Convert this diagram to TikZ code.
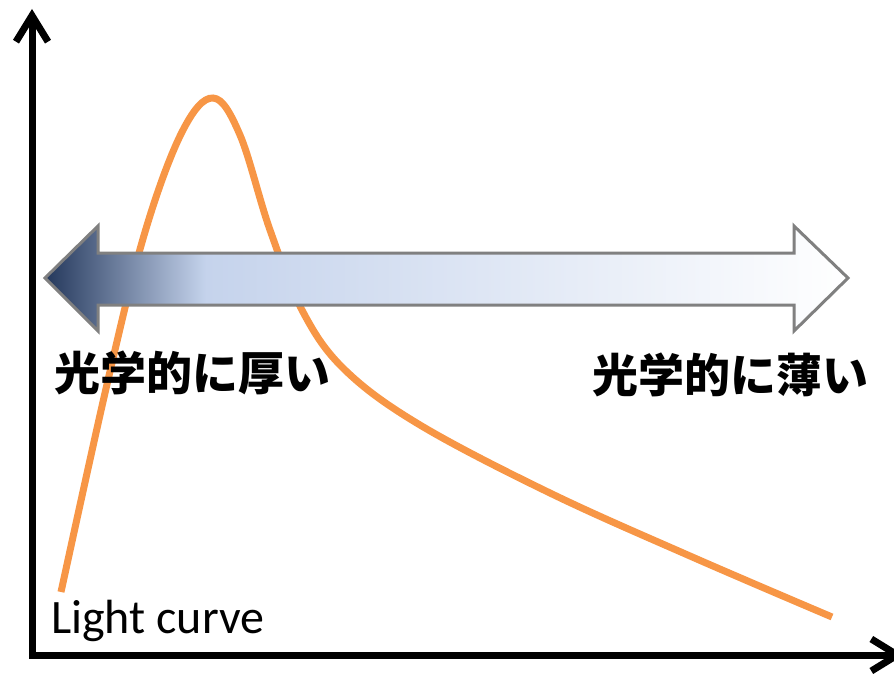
\documentclass[tikz,border=0pt]{standalone}
\usepackage{fontspec}
\setmainfont{Carlito}
\newfontfamily\jpfont{Noto Sans CJK JP}
\usetikzlibrary{arrows.meta}
\definecolor{curveorange}{RGB}{247,150,70}
\definecolor{banddark}{RGB}{36,56,92}
\definecolor{bandlight}{RGB}{197,211,236}
\definecolor{bandedge}{RGB}{128,128,128}
\pgfdeclarehorizontalshading{bandshade}{100bp}{color(0bp)=(banddark); color(25bp)=(banddark); color(35bp)=(bandlight); color(75bp)=(white); color(100bp)=(white)}

\tikzset{
  axisline/.style={line width=7pt, line join=miter, {Straight Barb[length=26pt,width=32pt]}-{Straight Barb[length=26pt,width=32pt]}},
  lightcurve/.style={curveorange, line width=7pt},
  bandarrow/.style={draw=bandedge, line width=3pt, shade, shading=bandshade, line join=miter},
  jplabel/.style={font=\jpfont\bfseries\fontsize{46}{50}\selectfont, inner sep=0pt},
  lclabel/.style={font=\fontsize{48}{52}\selectfont, inner sep=0pt}
}

\begin{document}
\begin{tikzpicture}[x=1pt, y=-1pt]
    \useasboundingbox (0,0) rectangle (894,674);
    \clip (0,0) rectangle (894,674);

    % axes
    \coordinate (ytop) at (32,9);
    \coordinate (origin) at (32,655);
    \coordinate (xend) at (904,655);
    \draw[axisline] (ytop) -- (origin) -- (xend);

    % light curve
    \draw[lightcurve] plot[smooth, tension=0.6] coordinates {(61,592) (108,380) (145,232) (182,132) (213,98) (240,135) (270,230) (303,312) (345,370) (420,425) (550,493) (690,556) (832,617)};

    % optical depth band
    \path[bandarrow] (45,278) -- (98,226) -- (98,253) -- (794,253) -- (794,226) -- (848,278)
        -- (794,331) -- (794,305) -- (98,305) -- (98,331) -- cycle;

    \node[jplabel] (thicklabel) at (192,373) {光学的に厚い};
    \node[jplabel] (thinlabel) at (730,375) {光学的に薄い};
    \node[lclabel, anchor=base west] (lclabel) at (51,633) {Light curve};
\end{tikzpicture}
\end{document}
